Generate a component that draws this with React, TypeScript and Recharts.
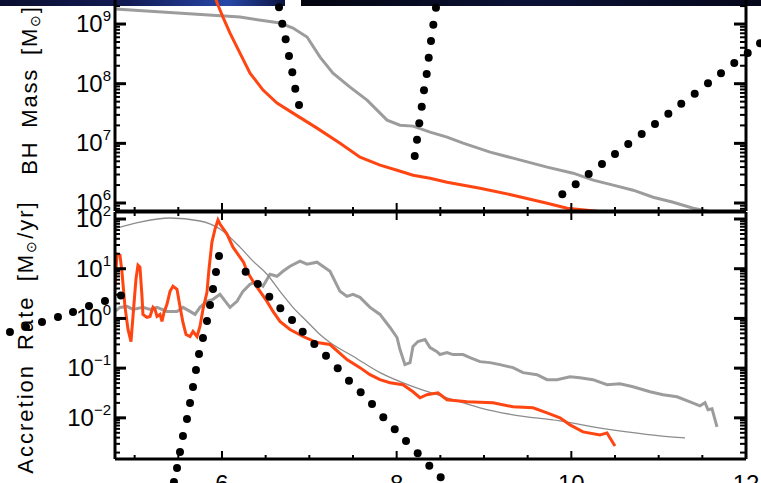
import React from "react";
import { LineChart, Line, XAxis, YAxis, ScatterChart, Scatter } from "recharts";

const FONT = "'Liberation Sans', Arial, sans-serif";
const RED = "#ff4512";
const GRAY = "#9c9c9c";
const MODEL_GRAY = "#8c8c8c";

const W = 761;
const H = 483;
const PLOT_LEFT = 115;
const PLOT_RIGHT = 746;
const TOP_H = 231; // top panel chart, plot bottom at 211
const BOT_TOP = 192; // page y of the lower chart
const BOT_H = 310; // plot from 212 to 459 on the page

// x axis (time)
const T_MIN = 4.775;
const T_MAX = 12;
const timeTicks = [5, 5.5, 6, 6.5, 7, 7.5, 8, 8.5, 9, 9.5, 10, 10.5, 11, 11.5, 12];
const timeLabels = [6, 8, 10, 12];

// y axes, log10 ranges
const massLogRange = [5.866, 9.403];
const rateLogRange = [-2.828, 2.141];
const massDecades = [5, 6, 7, 8, 9];
const rateDecades = [-3, -2, -1, 0, 1, 2];
const decadeSteps = [1, 2, 3, 4, 5, 6, 7, 8, 9];

// top panel: BH mass, log10(M / Msun)
const grayMassT = [4.775, 6.206, 6.664, 6.813, 6.974, 7.123, 7.271, 7.466, 7.661, 7.81, 7.89, 8.039, 8.188, 8.383, 8.577, 8.761, 9.07, 9.333, 9.723, 10.021, 10.25, 10.479, 10.708, 10.937, 11.166, 11.395, 11.624];
const grayMassLog = [9.252, 9.117, 9.017, 8.933, 8.782, 8.446, 8.178, 7.943, 7.725, 7.507, 7.389, 7.305, 7.289, 7.188, 7.104, 7.003, 6.852, 6.752, 6.601, 6.5, 6.383, 6.299, 6.215, 6.097, 6.013, 5.913, 5.846];
const redMassT = [5.92, 5.954, 6.011, 6.092, 6.206, 6.321, 6.47, 6.63, 6.813, 7.088, 7.352, 7.581, 7.81, 8.005, 8.188, 8.383, 8.577, 8.955, 9.333, 9.723, 9.952, 10.296, 10.479];
const redMassLog = [9.45, 9.319, 9.117, 8.849, 8.513, 8.178, 7.893, 7.674, 7.507, 7.255, 7.003, 6.768, 6.634, 6.55, 6.466, 6.416, 6.349, 6.248, 6.131, 5.997, 5.913, 5.862, 5.846];

// bottom panel: accretion rate, log10(Msun/yr)
const modelRateT = [4.775, 5.061, 5.405, 5.748, 5.977, 6.206, 6.355, 6.515, 6.664, 6.813, 6.973, 7.122, 7.237, 7.5, 7.81, 8.188, 8.576, 8.954, 9.332, 9.87, 10.248, 10.637, 11.015, 11.302];
const modelRateLog = [1.808, 1.939, 2.02, 1.96, 1.798, 1.434, 1.152, 0.889, 0.545, 0.222, -0.061, -0.323, -0.485, -0.76, -1.091, -1.374, -1.596, -1.798, -1.939, -2.06, -2.182, -2.283, -2.364, -2.404];
const redRateT = [4.775, 4.798, 4.832, 4.855, 4.889, 4.924, 4.958, 4.981, 5.015, 5.038, 5.061, 5.084, 5.095, 5.141, 5.176, 5.21, 5.233, 5.256, 5.29, 5.313, 5.336, 5.37, 5.405, 5.439, 5.485, 5.519, 5.553, 5.588, 5.634, 5.668, 5.714, 5.748, 5.782, 5.828, 5.851, 5.885, 5.92, 5.954, 5.977, 6.057, 6.126, 6.206, 6.25, 6.286, 6.355, 6.435, 6.515, 6.584, 6.664, 6.779, 6.928, 7.088, 7.237, 7.431, 7.58, 7.695, 7.809, 7.924, 8.073, 8.187, 8.267, 8.347, 8.473, 8.576, 8.805, 9.103, 9.332, 9.561, 9.722, 9.87, 9.985, 10.134, 10.328, 10.409, 10.443, 10.5];
const redRateLog = [0.65, 1.293, 1.273, 0.929, 0.242, -0.222, -0.465, 0.04, 0.788, 1.071, 1.03, 0.444, 0.081, 0.02, 0.04, 0.222, 0.182, 0.04, 0.081, -0.061, 0.121, 0.283, 0.545, 0.646, 0.586, 0.242, -0.081, -0.323, -0.364, -0.263, -0.364, -0.162, 0.182, 0.525, 0.99, 1.535, 1.798, 1.98, 1.899, 1.697, 1.434, 1.232, 1.12, 0.949, 0.747, 0.545, 0.343, 0.141, -0.061, -0.222, -0.364, -0.485, -0.525, -0.828, -0.99, -1.131, -1.232, -1.293, -1.333, -1.475, -1.596, -1.535, -1.495, -1.636, -1.677, -1.697, -1.778, -1.798, -1.899, -2.0, -2.141, -2.283, -2.343, -2.303, -2.404, -2.566];
const grayRateT = [4.775, 4.832, 4.912, 4.981, 5.095, 5.176, 5.256, 5.37, 5.485, 5.553, 5.634, 5.691, 5.748, 5.828, 5.897, 5.977, 6.092, 6.172, 6.24, 6.321, 6.401, 6.469, 6.55, 6.63, 6.698, 6.779, 6.893, 6.973, 7.088, 7.122, 7.237, 7.351, 7.431, 7.5, 7.58, 7.695, 7.809, 7.924, 8.004, 8.038, 8.095, 8.153, 8.187, 8.244, 8.324, 8.382, 8.462, 8.496, 8.576, 8.645, 8.76, 8.84, 8.954, 9.069, 9.183, 9.332, 9.447, 9.607, 9.722, 9.836, 9.985, 10.099, 10.248, 10.409, 10.557, 10.706, 10.901, 11.05, 11.21, 11.359, 11.473, 11.531, 11.565, 11.611, 11.668];
const grayRateLog = [0.141, 0.222, 0.242, 0.182, 0.222, 0.182, 0.222, 0.141, 0.141, 0.222, 0.141, 0.081, 0.222, 0.343, 0.384, 0.485, 0.222, 0.343, 0.545, 0.687, 0.747, 0.646, 0.889, 0.848, 0.949, 1.051, 1.152, 1.091, 1.131, 1.091, 0.949, 0.545, 0.444, 0.485, 0.424, 0.222, 0.081, -0.182, -0.384, -0.626, -0.929, -0.889, -0.566, -0.465, -0.424, -0.586, -0.667, -0.727, -0.687, -0.727, -0.727, -0.788, -0.869, -0.889, -0.929, -0.99, -1.091, -1.131, -1.232, -1.232, -1.172, -1.192, -1.232, -1.333, -1.313, -1.374, -1.475, -1.535, -1.576, -1.677, -1.758, -1.697, -1.838, -1.818, -2.182];

// dotted overlay curves (mass units for upper ones, rate units for lower ones)
const dotsMassAT = [6.653, 6.69, 6.729, 6.767, 6.805, 6.839, 6.882];
const dotsMassALog = [9.28, 9.005, 8.744, 8.463, 8.19, 7.915, 7.641];
const dotsMassBT = [8.45, 8.42, 8.393, 8.367, 8.344, 8.313, 8.287, 8.259, 8.233, 8.207];
const dotsMassBLog = [9.274, 8.988, 8.715, 8.435, 8.161, 7.888, 7.613, 7.334, 7.059, 6.786];
const dotsMassCT = [9.897, 10.05, 10.199, 10.351, 10.5, 10.652, 10.806, 10.958, 11.111, 11.259, 11.413, 11.565, 11.714, 11.866, 12.02, 12.161];
const dotsMassCLog = [6.143, 6.311, 6.484, 6.651, 6.819, 6.987, 7.155, 7.322, 7.495, 7.663, 7.831, 8.005, 8.173, 8.346, 8.514, 8.677];
const dotsRateAT = [3.572, 3.756, 3.939, 4.122, 4.294, 4.477, 4.66, 4.843];
const dotsRateALog = [-0.263, -0.162, -0.061, 0.04, 0.141, 0.263, 0.364, 0.475];
const dotsRateBT = [5.45, 5.485, 5.519, 5.553, 5.599, 5.634, 5.668, 5.702, 5.737, 5.782, 5.828, 5.863, 5.897, 5.931, 5.966];
const dotsRateBLog = [-3.293, -3.01, -2.687, -2.364, -2.02, -1.697, -1.374, -1.03, -0.707, -0.384, -0.04, 0.283, 0.606, 0.949, 1.273];
const dotsRateCT = [6.271, 6.409, 6.542, 6.668, 6.802, 6.924, 7.057, 7.191, 7.325, 7.454, 7.588, 7.718, 7.847, 7.978, 8.107, 8.241, 8.374, 8.504];
const dotsRateCLog = [0.956, 0.707, 0.45, 0.216, -0.02, -0.257, -0.505, -0.741, -0.996, -1.246, -1.481, -1.717, -1.986, -2.228, -2.465, -2.713, -2.964, -3.198];

// overlay frame in panel units (whole 761x483 picture)
const overlayT = [3.458, 12.172];
const overlayMassLog = [1.299, 9.403];
const overlayRateLog = [-3.313, 6.444];

const toPow = (t: number[], l: number[]) => t.map((x, i) => ({ t: x, v: Math.pow(10, l[i]) }));
const toRaw = (t: number[], l: number[]) => t.map((x, i) => ({ t: x, v: l[i] }));

const logTicks = (decades: number[], range: number[]) => {
  const out: number[] = [];
  for (const d of decades) {
    for (const s of decadeSteps) {
      const l = d + Math.log10(s);
      if (l >= range[0] && l <= range[1]) out.push(s * Math.pow(10, d));
    }
  }
  return out;
};

const massTicks = logTicks(massDecades, massLogRange);
const rateTicks = logTicks(rateDecades, rateLogRange);
const massDomain = [Math.pow(10, massLogRange[0]), Math.pow(10, massLogRange[1])];
const rateDomain = [Math.pow(10, rateLogRange[0]), Math.pow(10, rateLogRange[1])];

const isMajor = (v: number) => {
  const l = Math.log10(v);
  return Math.abs(l - Math.round(l)) < 1e-6;
};

const PowerLabel = ({ y, exp }: { y: number; exp: number }) => (
  <text x={111} y={y + 8} textAnchor="end" fontFamily={FONT} fontSize={24} fill="#000">
    10
    <tspan dy={-11} fontSize={15}>
      {exp < 0 ? `\u2212${-exp}` : String(exp)}
    </tspan>
  </text>
);

const leftLogTick = (props: any) => {
  const { y, payload } = props;
  const major = isMajor(payload.value);
  const len = major ? 11 : 5;
  return (
    <g>
      <line x1={PLOT_LEFT} x2={PLOT_LEFT + len} y1={y} y2={y} stroke="#000" strokeWidth={major ? 3 : 2} />
      {major && <PowerLabel y={y} exp={Math.round(Math.log10(payload.value))} />}
    </g>
  );
};

const rightLogTick = (props: any) => {
  const { y, payload } = props;
  const major = isMajor(payload.value);
  const len = major ? 12 : 6;
  return (
    <line x1={PLOT_RIGHT - len} x2={PLOT_RIGHT} y1={y} y2={y} stroke="#000" strokeWidth={major ? 3 : 2} />
  );
};

const makeTimeTick = (axisY: number, dir: number, withLabel: boolean) => (props: any) => {
  const { x, payload } = props;
  const major = timeLabels.includes(payload.value);
  const len = major ? 8 : 4;
  return (
    <g>
      <line x1={x} x2={x} y1={axisY} y2={axisY + dir * len} stroke="#000" strokeWidth={2} />
      {withLabel && major && (
        <text x={x} y={axisY + 33} textAnchor="middle" fontFamily={FONT} fontSize={24} fill="#000">
          {payload.value}
        </text>
      )}
    </g>
  );
};

const MassTitle = () => (
  <text x={37} y={90} transform="rotate(-90 37 90)" textAnchor="middle" fontFamily={FONT} fontSize={22} letterSpacing={1.8} wordSpacing={5} fill="#000">
    BH Mass [M<tspan fontSize={14} dy={3}>{"\u2299"}</tspan><tspan dy={-3}>]</tspan>
  </text>
);

const RateTitle = () => (
  <text x={33} y={145} transform="rotate(-90 33 145)" textAnchor="middle" fontFamily={FONT} fontSize={22} letterSpacing={2} wordSpacing={6} fill="#000">
    Accretion Rate [M<tspan fontSize={14} dy={3}>{"\u2299"}</tspan><tspan dy={-3}>/yr]</tspan>
  </text>
);

const axisLine = { stroke: "#000", strokeWidth: 3 };
const dotShape = (p: any) => <circle cx={p.cx} cy={p.cy} r={4} fill="#000" />;

export default function App() {
  return (
    <div style={{ position: "absolute", left: 0, top: 0, width: W, height: H, overflow: "hidden", background: "#fff" }}>
      <div style={{ position: "absolute", left: 0, top: 0, width: 285, height: 6, background: "linear-gradient(90deg, #0a0e2e 0%, #121b55 45%, #2747a8 80%, #0c1340 100%)" }} />
      <div style={{ position: "absolute", left: 301, top: 0, width: 460, height: 6, background: "linear-gradient(90deg, #04050f 0%, #0b1236 50%, #05071a 100%)" }} />

      <div style={{ position: "absolute", left: 0, top: 0 }}>
        <LineChart width={W} height={TOP_H} margin={{ top: 0, right: 0, bottom: 0, left: 0 }}>
          <XAxis type="number" dataKey="t" domain={[T_MIN, T_MAX]} allowDataOverflow ticks={timeTicks} interval={0} height={20} axisLine={axisLine} tickLine={false} tick={makeTimeTick(211, -1, false)} />
          <YAxis yAxisId="l" type="number" dataKey="v" scale="log" domain={massDomain} allowDataOverflow ticks={massTicks} interval={0} width={PLOT_LEFT} axisLine={axisLine} tickLine={false} tick={leftLogTick} label={{ content: () => <MassTitle /> }} />
          <YAxis yAxisId="r" orientation="right" type="number" dataKey="v" scale="log" domain={massDomain} allowDataOverflow ticks={massTicks} interval={0} width={W - PLOT_RIGHT} axisLine={axisLine} tickLine={false} tick={rightLogTick} />
          <Line yAxisId="l" data={toPow(grayMassT, grayMassLog)} dataKey="v" stroke={GRAY} strokeWidth={3} dot={false} isAnimationActive={false} />
          <Line yAxisId="l" data={toPow(redMassT, redMassLog)} dataKey="v" stroke={RED} strokeWidth={3} dot={false} isAnimationActive={false} />
        </LineChart>
      </div>

      <div style={{ position: "absolute", left: 0, top: BOT_TOP }}>
        <LineChart width={W} height={BOT_H} margin={{ top: 0, right: 0, bottom: 0, left: 0 }}>
          <XAxis xAxisId="top" orientation="top" type="number" dataKey="t" domain={[T_MIN, T_MAX]} allowDataOverflow ticks={timeTicks} interval={0} height={20} axisLine={axisLine} tickLine={false} tick={makeTimeTick(20, 1, false)} />
          <XAxis xAxisId="b" type="number" dataKey="t" domain={[T_MIN, T_MAX]} allowDataOverflow ticks={timeTicks} interval={0} height={43} axisLine={axisLine} tickLine={false} tick={makeTimeTick(BOT_H - 43, -1, true)} />
          <YAxis yAxisId="l" type="number" dataKey="v" scale="log" domain={rateDomain} allowDataOverflow ticks={rateTicks} interval={0} width={PLOT_LEFT} axisLine={axisLine} tickLine={false} tick={leftLogTick} label={{ content: () => <RateTitle /> }} />
          <YAxis yAxisId="r" orientation="right" type="number" dataKey="v" scale="log" domain={rateDomain} allowDataOverflow ticks={rateTicks} interval={0} width={W - PLOT_RIGHT} axisLine={axisLine} tickLine={false} tick={rightLogTick} />
          <Line xAxisId="b" yAxisId="l" data={toPow(grayRateT, grayRateLog)} dataKey="v" stroke={GRAY} strokeWidth={3} dot={false} isAnimationActive={false} />
          <Line xAxisId="b" yAxisId="l" data={toPow(modelRateT, modelRateLog)} dataKey="v" type="monotone" stroke={MODEL_GRAY} strokeWidth={1.3} dot={false} isAnimationActive={false} />
          <Line xAxisId="b" yAxisId="l" data={toPow(redRateT, redRateLog)} dataKey="v" stroke={RED} strokeWidth={3} dot={false} isAnimationActive={false} />
        </LineChart>
      </div>

      <div style={{ position: "absolute", left: 0, top: 0 }}>
        <ScatterChart width={W} height={H} margin={{ top: 0, right: 0, bottom: 0, left: 0 }}>
          <XAxis type="number" dataKey="t" domain={overlayT} allowDataOverflow hide />
          <YAxis yAxisId="m" type="number" dataKey="v" domain={overlayMassLog} allowDataOverflow hide />
          <YAxis yAxisId="r" type="number" dataKey="v" domain={overlayRateLog} allowDataOverflow hide />
          <Scatter yAxisId="m" data={toRaw(dotsMassAT, dotsMassALog)} shape={dotShape} isAnimationActive={false} />
          <Scatter yAxisId="m" data={toRaw(dotsMassBT, dotsMassBLog)} shape={dotShape} isAnimationActive={false} />
          <Scatter yAxisId="m" data={toRaw(dotsMassCT, dotsMassCLog)} shape={dotShape} isAnimationActive={false} />
          <Scatter yAxisId="r" data={toRaw(dotsRateAT, dotsRateALog)} shape={dotShape} isAnimationActive={false} />
          <Scatter yAxisId="r" data={toRaw(dotsRateBT, dotsRateBLog)} shape={dotShape} isAnimationActive={false} />
          <Scatter yAxisId="r" data={toRaw(dotsRateCT, dotsRateCLog)} shape={dotShape} isAnimationActive={false} />
        </ScatterChart>
      </div>
    </div>
  );
}
